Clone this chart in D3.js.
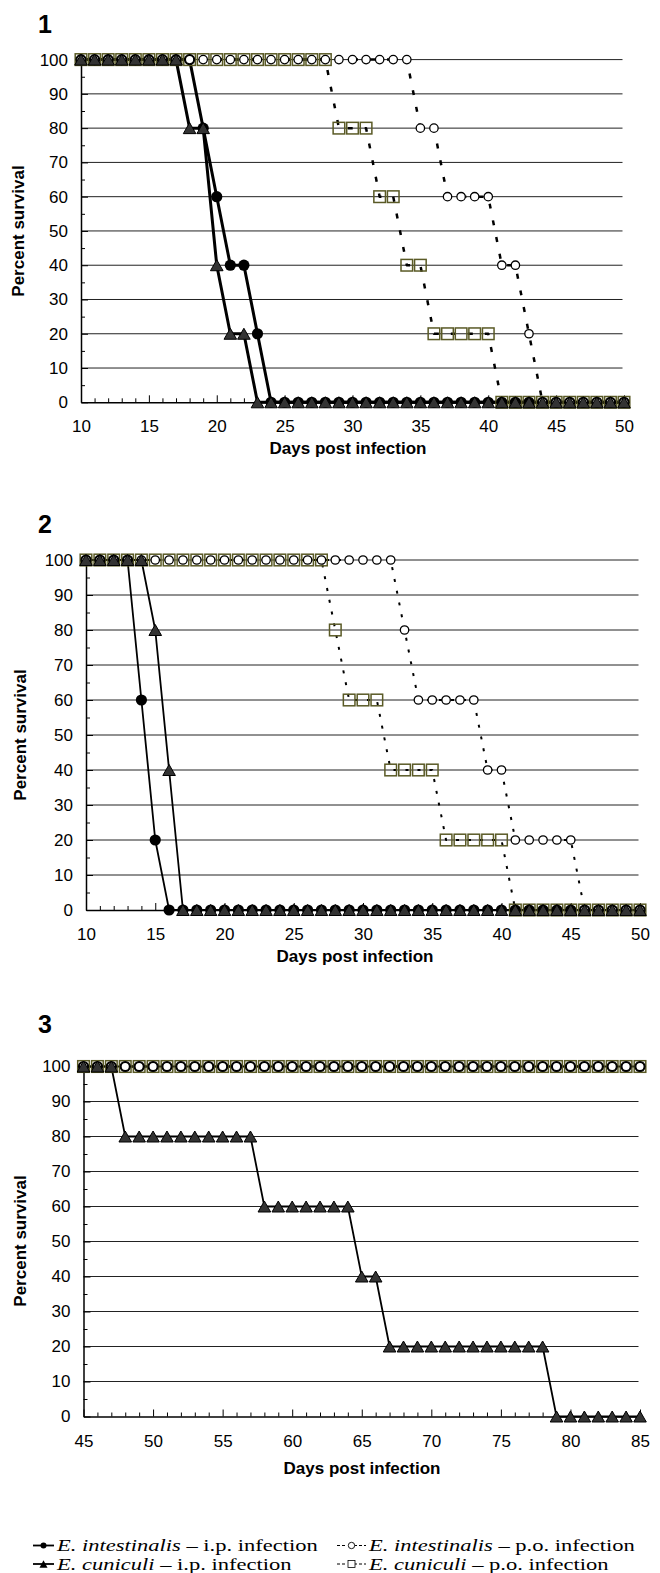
<!DOCTYPE html>
<html>
<head>
<meta charset="utf-8">
<script src="https://cdn.jsdelivr.net/npm/d3@7"></script>
<style>
body { margin: 0; background: #fff; }
svg { display: block; }
</style>
</head>
<body>
<svg id="chart" width="660" height="1573"></svg>
<script>
// ---- data ----
const yTicks = [0, 10, 20, 30, 40, 50, 60, 70, 80, 90, 100];
const yMinor = [5, 15, 25, 35, 45, 55, 65, 75, 85, 95];

// panel 1 and 2: days 10..50
const days1 = [10, 11, 12, 13, 14, 15, 16, 17, 18, 19,
  20, 21, 22, 23, 24, 25, 26, 27, 28, 29,
  30, 31, 32, 33, 34, 35, 36, 37, 38, 39,
  40, 41, 42, 43, 44, 45, 46, 47, 48, 49,
  50];
const days2 = days1;
// panel 3: days 45..85
const days3 = [45, 46, 47, 48, 49, 50, 51, 52, 53, 54,
  55, 56, 57, 58, 59, 60, 61, 62, 63, 64,
  65, 66, 67, 68, 69, 70, 71, 72, 73, 74,
  75, 76, 77, 78, 79, 80, 81, 82, 83, 84,
  85];

// E. intestinalis i.p. (filled circle)
const ipInt1 = [100, 100, 100, 100, 100, 100, 100, 100, 100, 80,
  60, 40, 40, 20, 0, 0, 0, 0, 0, 0,
  0, 0, 0, 0, 0, 0, 0, 0, 0, 0,
  0, 0, 0, 0, 0, 0, 0, 0, 0, 0,
  0];
// E. cuniculi i.p. (triangle)
const ipCun1 = [100, 100, 100, 100, 100, 100, 100, 100, 80, 80,
  40, 20, 20, 0, 0, 0, 0, 0, 0, 0,
  0, 0, 0, 0, 0, 0, 0, 0, 0, 0,
  0, 0, 0, 0, 0, 0, 0, 0, 0, 0,
  0];
// E. intestinalis p.o. (open circle)
const poInt1 = [100, 100, 100, 100, 100, 100, 100, 100, 100, 100,
  100, 100, 100, 100, 100, 100, 100, 100, 100, 100,
  100, 100, 100, 100, 100, 80, 80, 60, 60, 60,
  60, 40, 40, 20, 0, 0, 0, 0, 0, 0,
  0];
// E. cuniculi p.o. (open square)
const poCun1 = [100, 100, 100, 100, 100, 100, 100, 100, 100, 100,
  100, 100, 100, 100, 100, 100, 100, 100, 100, 80,
  80, 80, 60, 60, 40, 40, 20, 20, 20, 20,
  20, 0, 0, 0, 0, 0, 0, 0, 0, 0,
  0];

const ipInt2 = [100, 100, 100, 100, 60, 20, 0, 0, 0, 0,
  0, 0, 0, 0, 0, 0, 0, 0, 0, 0,
  0, 0, 0, 0, 0, 0, 0, 0, 0, 0,
  0, 0, 0, 0, 0, 0, 0, 0, 0, 0,
  0];
const ipCun2 = [100, 100, 100, 100, 100, 80, 40, 0, 0, 0,
  0, 0, 0, 0, 0, 0, 0, 0, 0, 0,
  0, 0, 0, 0, 0, 0, 0, 0, 0, 0,
  0, 0, 0, 0, 0, 0, 0, 0, 0, 0,
  0];
const poInt2 = [100, 100, 100, 100, 100, 100, 100, 100, 100, 100,
  100, 100, 100, 100, 100, 100, 100, 100, 100, 100,
  100, 100, 100, 80, 60, 60, 60, 60, 60, 40,
  40, 20, 20, 20, 20, 20, 0, 0, 0, 0,
  0];
const poCun2 = [100, 100, 100, 100, 100, 100, 100, 100, 100, 100,
  100, 100, 100, 100, 100, 100, 100, 100, 80, 60,
  60, 60, 40, 40, 40, 40, 20, 20, 20, 20,
  20, 0, 0, 0, 0, 0, 0, 0, 0, 0,
  0];

const ipInt3 = [100, 100, 100, 100, 100, 100, 100, 100, 100, 100,
  100, 100, 100, 100, 100, 100, 100, 100, 100, 100,
  100, 100, 100, 100, 100, 100, 100, 100, 100, 100,
  100, 100, 100, 100, 100, 100, 100, 100, 100, 100,
  100];
const ipCun3 = [100, 100, 100, 80, 80, 80, 80, 80, 80, 80,
  80, 80, 80, 60, 60, 60, 60, 60, 60, 60,
  40, 40, 20, 20, 20, 20, 20, 20, 20, 20,
  20, 20, 20, 20, 0, 0, 0, 0, 0, 0,
  0];
const poInt3 = [100, 100, 100, 100, 100, 100, 100, 100, 100, 100,
  100, 100, 100, 100, 100, 100, 100, 100, 100, 100,
  100, 100, 100, 100, 100, 100, 100, 100, 100, 100,
  100, 100, 100, 100, 100, 100, 100, 100, 100, 100,
  100];
const poCun3 = [100, 100, 100, 100, 100, 100, 100, 100, 100, 100,
  100, 100, 100, 100, 100, 100, 100, 100, 100, 100,
  100, 100, 100, 100, 100, 100, 100, 100, 100, 100,
  100, 100, 100, 100, 100, 100, 100, 100, 100, 100,
  100];

const panelLabels = ["1", "2", "3"];
const xTitle = "Days post infection";
const yTitle = "Percent survival";

// ---- layout ----
const panels = [
  { label: panelLabels[0], days: days1, ipInt: ipInt1, ipCun: ipCun1, poInt: poInt1, poCun: poCun1,
    left: 81, right: 624, top: 59.6, bottom: 402.3, lw: 3, dash: "5,12", dw: 2.5,
    ty: 33, yt: 231, ytx: 24, xt: 348, xty: 52 },
  { label: panelLabels[1], days: days2, ipInt: ipInt2, ipCun: ipCun2, poInt: poInt2, poCun: poCun2,
    left: 86, right: 640, top: 560, bottom: 910, lw: 1.8, dash: "3,9", dw: 2,
    ty: 533, yt: 735, ytx: 26, xt: 355, xty: 52 },
  { label: panelLabels[2], days: days3, ipInt: ipInt3, ipCun: ipCun3, poInt: poInt3, poCun: poCun3,
    left: 83.5, right: 640, top: 1066.5, bottom: 1416.5, lw: 1.8, dash: "3,9", dw: 2,
    ty: 1033, yt: 1241, ytx: 26, xt: 362, xty: 57 }
];

const sans = "'Liberation Sans', Arial, sans-serif";
const svg = d3.select("#chart");

const triPath = (w, h) => `M0,${-h / 2}L${w / 2},${h / 2}L${-w / 2},${h / 2}Z`;

panels.forEach(p => {
  const x = d3.scaleLinear().domain([p.days[0], p.days[p.days.length - 1]]).range([p.left, p.right]);
  const y = d3.scaleLinear().domain([0, 100]).range([p.bottom, p.top]);
  const g = svg.append("g");

  // panel number
  g.append("text")
    .attr("x", 38).attr("y", p.ty)
    .attr("font-family", sans).attr("font-size", 25).attr("font-weight", "bold")
    .text(p.label);

  // gridlines
  g.append("g").selectAll("line")
    .data(yTicks.filter(d => d > 0))
    .join("line")
    .attr("x1", p.left).attr("x2", p.right - 1.5)
    .attr("y1", d => y(d)).attr("y2", d => y(d))
    .attr("stroke", "#222").attr("stroke-width", 1);

  // y axis
  const ya = g.append("g").attr("transform", `translate(${p.left},0)`)
    .call(d3.axisLeft(y).tickValues(yTicks).tickSizeInner(-7).tickSizeOuter(0).tickPadding(13));
  g.append("g").attr("transform", `translate(${p.left},0)`)
    .call(d3.axisLeft(y).tickValues(yMinor).tickSizeInner(-4).tickSizeOuter(0).tickFormat(""))
    .call(s => s.select(".domain").remove());
  ya.attr("font-family", sans).attr("font-size", 17);
  ya.select(".domain").attr("stroke-width", 1.5);
  ya.selectAll(".tick text").attr("fill", "#000");

  // x axis
  const xa = g.append("g").attr("transform", `translate(0,${p.bottom})`)
    .call(d3.axisBottom(x).tickValues(p.days).tickSizeInner(-4).tickSizeOuter(0).tickPadding(18)
      .tickFormat(d => d % 5 === 0 ? d : ""));
  xa.attr("font-family", sans).attr("font-size", 17);
  xa.select(".domain").attr("stroke-width", 1.5);
  xa.selectAll(".tick line").filter(d => d % 5 === 0).attr("y2", -7);
  xa.selectAll(".tick text").attr("fill", "#000");

  // axis titles
  g.append("text")
    .attr("x", p.xt).attr("y", p.bottom + p.xty)
    .attr("text-anchor", "middle")
    .attr("font-family", sans).attr("font-size", 17).attr("font-weight", "bold")
    .text(xTitle);
  g.append("text")
    .attr("transform", `translate(${p.ytx},${p.yt}) rotate(-90)`)
    .attr("text-anchor", "middle")
    .attr("font-family", sans).attr("font-size", 17).attr("font-weight", "bold")
    .text(yTitle);

  // lines
  const line = d3.line().x((d, i) => x(p.days[i])).y(d => y(d));
  const series = [
    { v: p.poCun, dash: true },
    { v: p.poInt, dash: true },
    { v: p.ipInt, dash: false },
    { v: p.ipCun, dash: false }
  ];
  series.forEach(s => {
    g.append("path")
      .attr("d", line(s.v))
      .attr("fill", "none")
      .attr("stroke", "#000")
      .attr("stroke-width", s.dash ? p.dw : p.lw)
      .attr("stroke-dasharray", s.dash ? p.dash : null)
      .attr("stroke-linejoin", "round");
  });

  // markers: squares, filled circles, open circles, triangles
  g.append("g").selectAll("rect")
    .data(p.poCun)
    .join("rect")
    .attr("x", (d, i) => x(p.days[i]) - 5.8)
    .attr("y", d => y(d) - 5.8)
    .attr("width", 11.6).attr("height", 11.6)
    .attr("fill", "none")
    .attr("stroke", "#5a5a26").attr("stroke-width", 1.5);

  g.append("g").selectAll("circle")
    .data(p.ipInt)
    .join("circle")
    .attr("cx", (d, i) => x(p.days[i]))
    .attr("cy", d => y(d))
    .attr("r", 5.6)
    .attr("fill", "#000");

  g.append("g").selectAll("circle")
    .data(p.poInt)
    .join("circle")
    .attr("cx", (d, i) => x(p.days[i]))
    .attr("cy", d => y(d))
    .attr("r", 4.2)
    .attr("fill", "#fff")
    .attr("stroke", "#000").attr("stroke-width", 1.3);

  g.append("g").selectAll("path")
    .data(p.ipCun)
    .join("path")
    .attr("d", triPath(12.6, 11))
    .attr("transform", (d, i) => `translate(${x(p.days[i])},${y(d)})`)
    .attr("fill", "#333")
    .attr("stroke", "#000").attr("stroke-width", 1);
});

// ---- legend ----
const legendItems = [
  { mark: "circle", po: false, sp: "E. intestinalis", rest: " \u2013 i.p. infection", col: 0, row: 0 },
  { mark: "circle", po: true, sp: "E. intestinalis", rest: " \u2013 p.o. infection", col: 1, row: 0 },
  { mark: "tri", po: false, sp: "E. cuniculi", rest: " \u2013 i.p. infection", col: 0, row: 1 },
  { mark: "square", po: true, sp: "E. cuniculi", rest: " \u2013 p.o. infection", col: 1, row: 1 }
];
const serif = "'Liberation Serif', 'Times New Roman', serif";
const lg = svg.append("g");
const rowY = [1551, 1569.5];
const colX = [33, 337];
const texts = [];
legendItems.forEach(it => {
  const x0 = colX[it.col];
  const yb = rowY[it.row];
  const cy = yb - 5.5;
  const w = it.po ? 29 : 21;
  lg.append("line")
    .attr("x1", x0).attr("x2", x0 + w).attr("y1", cy).attr("y2", cy)
    .attr("stroke", "#000").attr("stroke-width", it.po ? 1.2 : 1.8)
    .attr("stroke-dasharray", it.po ? "3,2,3,9,3,2" : null);
  const cx = x0 + w / 2;
  if (it.mark === "circle") {
    lg.append("circle").attr("cx", cx).attr("cy", cy).attr("r", it.po ? 3.2 : 3)
      .attr("fill", it.po ? "#fff" : "#000").attr("stroke", "#000").attr("stroke-width", it.po ? 0.9 : 0);
  } else if (it.mark === "tri") {
    lg.append("path").attr("d", triPath(8, 7.5)).attr("transform", `translate(${cx},${cy})`).attr("fill", "#000");
  } else {
    lg.append("rect").attr("x", cx - 3.5).attr("y", cy - 3.5).attr("width", 7).attr("height", 7)
      .attr("fill", "#fff").attr("stroke", "#000").attr("stroke-width", 0.8);
  }
  const t = lg.append("text")
    .attr("font-family", serif).attr("font-size", 17.5)
    .attr("transform", `translate(${x0 + (it.po ? 32 : 24)},${yb})`);
  t.append("tspan").attr("font-style", "italic").text(it.sp);
  t.append("tspan").text(it.rest);
  texts.push(t);
});
// stretch the legend text to the width it has in the figure
const baseW = texts[0].node().getComputedTextLength();
const sx = 261 / baseW;
texts.forEach(t => t.attr("transform", t.attr("transform") + ` scale(${sx},1)`));
</script>
</body>
</html>
